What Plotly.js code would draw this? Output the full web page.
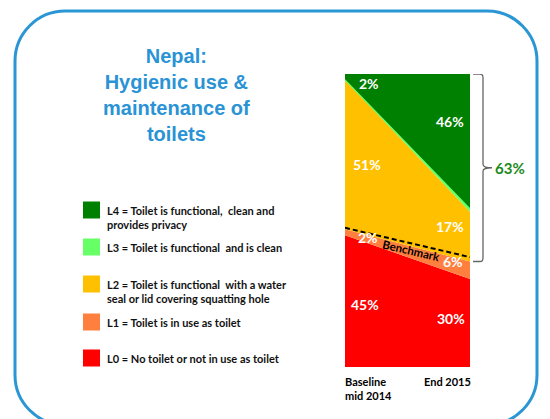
<!DOCTYPE html>
<html>
<head>
<meta charset="utf-8">
<script src="https://cdn.plot.ly/plotly-3.0.1.min.js"></script>
<style>html,body{margin:0;padding:0;background:#fff;}#chart{width:550px;height:419px;}</style>
</head>
<body>
<div id="chart"></div>
<script>
// ---------- data ----------
const categories = ['Baseline<br>mid 2014', 'End 2015'];
const L0 = [45, 30];
const L1 = [2, 6];
const L2 = [51, 17];
const L3 = [0, 1];
const L4 = [2, 46];
const benchmark = [47.5, 37.5];
const levelKeys = ['L0', 'L1', 'L2', 'L3', 'L4'];
const legendLabels = [
  'L0 = No toilet or not in use as toilet',
  'L1 = Toilet is in use as toilet',
  'L2 = Toilet is functional  with a water<br>seal or lid covering squatting hole',
  'L3 = Toilet is functional  and is clean',
  'L4 = Toilet is functional,  clean and<br>provides privacy'
];
const titleText = 'Nepal:<br>Hygienic use &<br>maintenance of<br>toilets';

// ---------- style ----------
const W = 550, H = 419;
const colors = ['#ff0000', '#ff7f3f', '#ffc000', '#66ff66', '#008000'];
const series = [L0, L1, L2, L3, L4];
const px = x => x / W;
const py = y => 1 - y / H;
const plotL = 345, plotR = 470, plotT = 74, plotB = 367;
const FONT = 'Lato, "Liberation Sans", sans-serif';

const xs = [0, 1];
const traces = series.map((v, i) => ({
  x: xs, y: v, type: 'scatter', stackgroup: 'one', name: levelKeys[i],
  mode: i === 3 ? 'lines' : 'none',
  line: {color: colors[i], width: i === 3 ? 1.2 : 0},
  fillcolor: colors[i], hoverinfo: 'skip', showlegend: false
}));
traces.push({
  x: xs, y: benchmark, type: 'scatter', mode: 'lines',
  line: {color: '#000', width: 2, dash: '5px,3px'},
  hoverinfo: 'skip', showlegend: false
});

const annotations = [];
// title
annotations.push({
  xref: 'paper', yref: 'paper', x: px(176), y: py(95), xanchor: 'center', yanchor: 'middle',
  text: '<b>' + titleText + '</b>', showarrow: false, align: 'center',
  font: {family: '"Liberation Sans", Arial, sans-serif', size: 20, color: '#2a93d5'}
});

// value labels
const labelShift = { // [xshift, yshift] per level, per category
  0: [[20, -3], [-19, 5]],
  1: [[23, -5], [-17, 9]],
  2: [[22, -10], [-20, 10]],
  4: [[24, -7], [-20, 20]]
};
for (let c = 0; c < 2; c++) {
  let base = 0;
  for (let i = 0; i < series.length; i++) {
    const v = series[i][c];
    if (labelShift[i] && v > 0) {
      annotations.push({
        xref: 'x', yref: 'y', x: xs[c], y: base + v / 2,
        xshift: labelShift[i][c][0], yshift: labelShift[i][c][1],
        text: '<b>' + v + '%</b>', showarrow: false,
        font: {family: FONT, size: 14, color: '#fff'}
      });
    }
    base += v;
  }
}
// benchmark label
const bx = 0.53;
annotations.push({
  xref: 'x', yref: 'y', x: bx, y: benchmark[0] + (benchmark[1] - benchmark[0]) * bx,
  yshift: -7, text: '<b>Benchmark</b>', showarrow: false, textangle: 13,
  font: {family: FONT, size: 11.5, color: '#000'}
});
// category labels
annotations.push({
  xref: 'x', yref: 'paper', x: 0, y: py(373), xanchor: 'left', yanchor: 'top', align: 'left',
  xshift: -2, text: '<b>' + categories[0] + '</b>', showarrow: false,
  font: {family: FONT, size: 11, color: '#000'}
});
annotations.push({
  xref: 'x', yref: 'paper', x: 1, y: py(373), xanchor: 'right', yanchor: 'top', align: 'right',
  xshift: 3, text: '<b>' + categories[1] + '</b>', showarrow: false,
  font: {family: FONT, size: 11, color: '#000'}
});
// bracket label: total of L2 + L4 at end
const bracketTop = L0[1] + L1[1] + L2[1] + L3[1] + L4[1];
const bracketBot = L0[1] + L1[1];
annotations.push({
  xref: 'paper', yref: 'y', x: px(493), y: (bracketTop + bracketBot) / 2, xanchor: 'left',
  text: '<b>' + (L2[1] + L4[1]) + '%</b>', showarrow: false,
  font: {family: FONT, size: 15, color: '#1a8a1a'}
});

const shapes = [];
// legend squares & labels
const legendY = [358, 322, 284, 247, 210]; // square centers, L0..L4
for (let i = 0; i < 5; i++) {
  shapes.push({
    type: 'rect', xref: 'paper', yref: 'paper',
    x0: px(83), x1: px(100), y0: py(legendY[i] - 8.5), y1: py(legendY[i] + 8.5),
    fillcolor: colors[i], line: {width: 0}
  });
  annotations.push({
    xref: 'paper', yref: 'paper', x: px(105), y: py(legendY[i] - 8), xanchor: 'left', yanchor: 'top',
    align: 'left', text: '<b>' + legendLabels[i] + '</b>', showarrow: false,
    font: {family: FONT, size: 11, color: '#111'}
  });
}
// bracket
const bx0 = px(473), bx1 = px(483), bx2 = px(492);
const bMid = (bracketTop + bracketBot) / 2;
const r = 1.2;
shapes.push({
  type: 'path', xref: 'paper', yref: 'y',
  path: `M${bx0},${bracketTop} L${px(480)},${bracketTop} Q${bx1},${bracketTop} ${bx1},${bracketTop - r} ` +
        `L${bx1},${bMid + r} Q${bx1},${bMid} ${bx2},${bMid} Q${bx1},${bMid} ${bx1},${bMid - r} ` +
        `L${bx1},${bracketBot + r} Q${bx1},${bracketBot} ${px(480)},${bracketBot} L${bx0},${bracketBot}`,
  line: {color: '#666', width: 1.3}
});
// rounded border
const L = 15, R = 537, T = 11, B = 425, rad = 50, k = 0.55 * rad;
shapes.push({
  type: 'path', xref: 'paper', yref: 'paper',
  path: `M${px(L + rad)},${py(T)} L${px(R - rad)},${py(T)} ` +
        `C${px(R - rad + k)},${py(T)} ${px(R)},${py(T + rad - k)} ${px(R)},${py(T + rad)} ` +
        `L${px(R)},${py(B - rad)} C${px(R)},${py(B - rad + k)} ${px(R - rad + k)},${py(B)} ${px(R - rad)},${py(B)} ` +
        `L${px(L + rad)},${py(B)} C${px(L + rad - k)},${py(B)} ${px(L)},${py(B - rad + k)} ${px(L)},${py(B - rad)} ` +
        `L${px(L)},${py(T + rad)} C${px(L)},${py(T + rad - k)} ${px(L + rad - k)},${py(T)} ${px(L + rad)},${py(T)} Z`,
  line: {color: '#2a96d4', width: 3}
});

const layout = {
  width: W, height: H, margin: {l: 0, r: 0, t: 0, b: 0},
  paper_bgcolor: '#fff', plot_bgcolor: 'rgba(0,0,0,0)',
  font: {family: FONT},
  showlegend: false,
  xaxis: {domain: [px(plotL), px(plotR)], range: [0, 1], visible: false, fixedrange: true},
  yaxis: {domain: [py(plotB), py(plotT)], range: [0, 100], visible: false, fixedrange: true},
  annotations: annotations, shapes: shapes
};
Plotly.newPlot('chart', traces, layout, {displayModeBar: false, staticPlot: true});
</script>
</body>
</html>
